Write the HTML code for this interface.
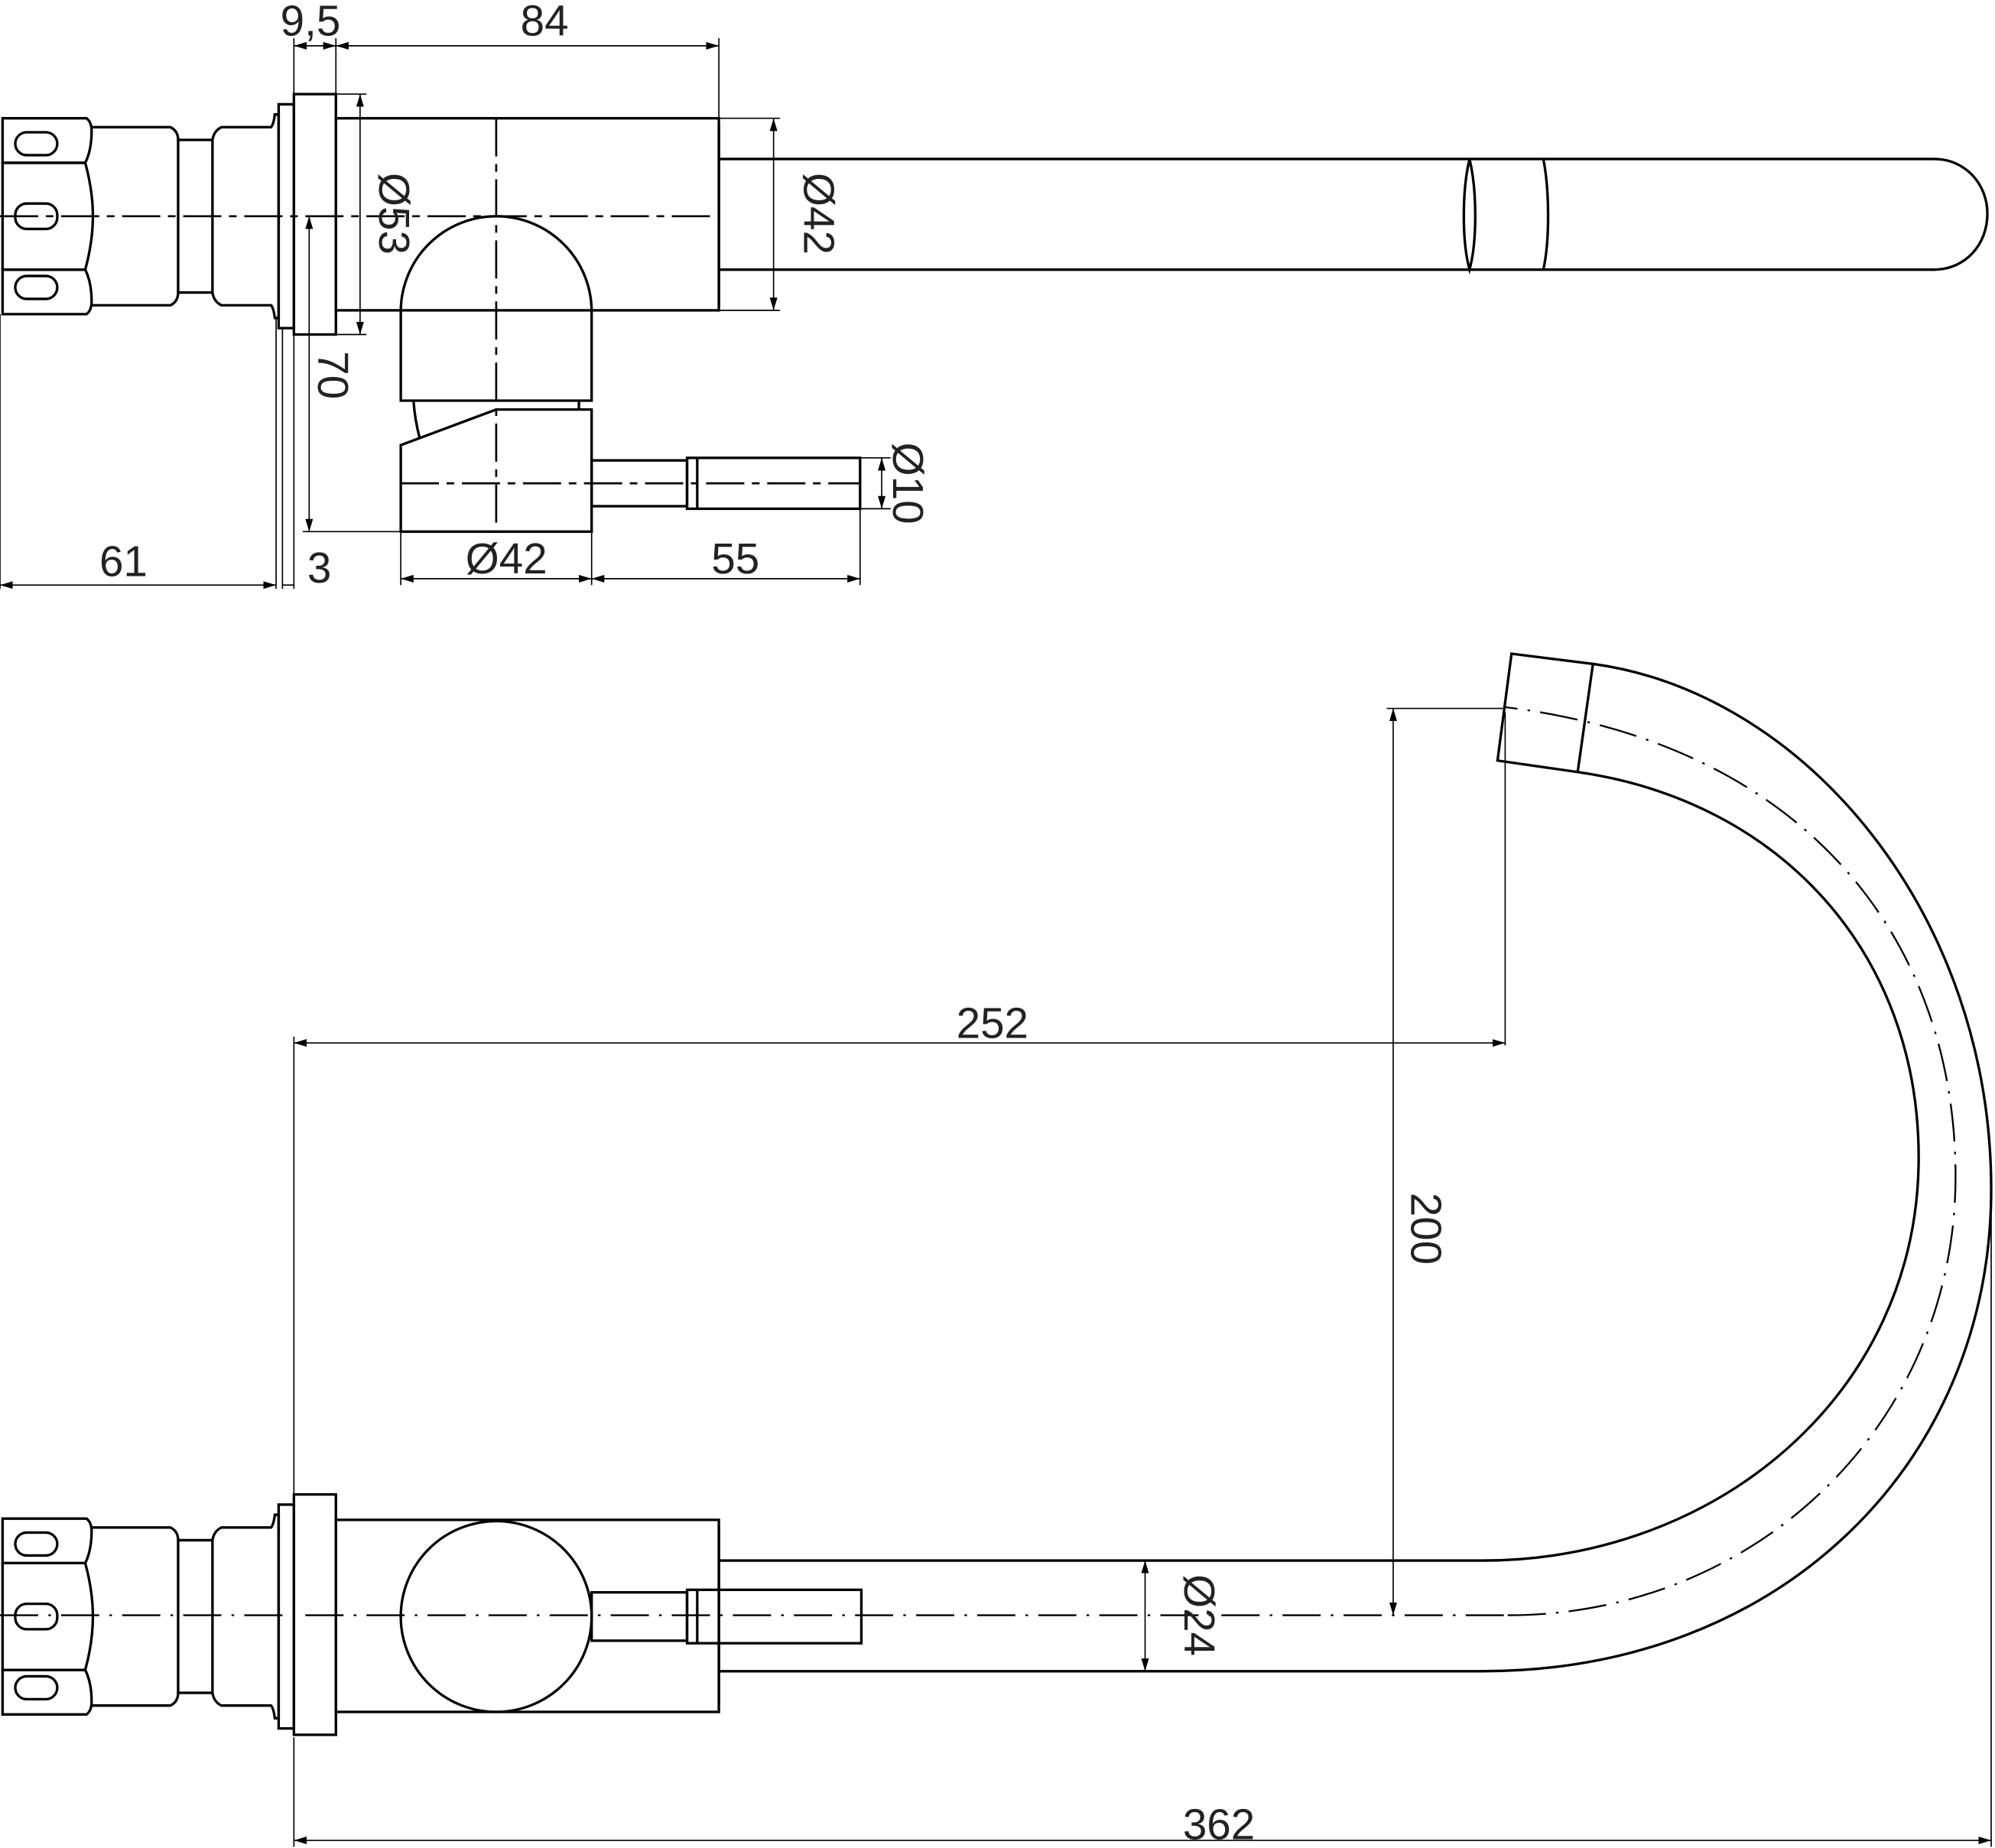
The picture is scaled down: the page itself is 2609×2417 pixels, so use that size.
<!DOCTYPE html>
<html><head><meta charset="utf-8"><style>
html,body{margin:0;padding:0;background:#fff}
svg{display:block}
text{font-family:"Liberation Sans","DejaVu Sans",sans-serif;font-size:34px;fill:#222}
</style></head><body>
<svg width="2609" height="2417" viewBox="0 0 1568 1453" preserveAspectRatio="none" xmlns="http://www.w3.org/2000/svg">
<defs>
<marker id="a" viewBox="0 0 10 6" refX="10" refY="3" markerWidth="10" markerHeight="6" orient="auto-start-reverse" markerUnits="userSpaceOnUse"><path d="M0,0 L10,3 L0,6 z" fill="#000"/></marker>
<g id="fit" fill="none" stroke="#000" stroke-width="2">
<path d="M2,93 H68 Q72,96 72,103 Q72,118 67,128 H2 Z"/>
<path d="M2,128 H67 Q73,150 73,170 Q73,190 67,212 H2 Z"/>
<path d="M2,212 H67 Q72,222 72,237 Q72,244 68,247 H2 Z"/>
<rect x="12" y="104" width="33" height="18" rx="9"/>
<rect x="12" y="160" width="33" height="20" rx="9"/>
<rect x="12" y="217" width="33" height="18" rx="9"/>
<path d="M72,100 H134 Q140,103 140,110 H167 Q168,103 174,100 H213 Q215,98 216,90 H219 V250 H216 Q215,242 213,240 H174 Q168,237 167,230 H140 Q140,237 134,240 H72"/>
<line x1="140" y1="110" x2="140" y2="230"/><line x1="167" y1="110" x2="167" y2="230"/>
<rect x="219" y="82" width="12" height="176"/>
<rect x="231" y="74" width="33" height="189"/>
</g>
</defs>
<g fill="none" stroke="#000" stroke-width="2">
<use href="#fit"/>
<rect x="264" y="93" width="301" height="151"/>
<line x1="565" y1="98" x2="565" y2="240"/>
<path d="M565,125 H1520 C1545,125 1562,145 1562,168 C1562,192 1545,212 1520,212 H565"/>
<path d="M1155,125 C1149,150 1149,190 1155,212 C1161,190 1161,150 1155,125 M1213,125 C1218,150 1218,190 1213,212"/>
<path d="M315,315 V245 A75,75 0 0 1 465,245 V315 Z"/>
<path d="M455,315 V322"/>
<path d="M325,315 Q326,330 330,345"/>
<path d="M315,418 V350 L390,322 H465 V418 Z"/>
<rect x="465" y="362" width="75" height="36"/>
<rect x="540" y="360" width="136" height="40"/>
<line x1="548" y1="360" x2="548" y2="400"/>
</g>
<g stroke="#000" stroke-width="1.6" fill="none" stroke-dasharray="30,6,6,6">
<line x1="0" y1="170" x2="565" y2="170"/>
<line x1="390" y1="93" x2="390" y2="418"/>
<line x1="315" y1="380" x2="676" y2="380"/>
</g>
<g stroke="#000" stroke-width="1" fill="none">
<line x1="231" y1="30" x2="231" y2="74"/><line x1="264" y1="30" x2="264" y2="93"/><line x1="565" y1="30" x2="565" y2="93"/>
<line x1="231" y1="36" x2="264" y2="36" marker-start="url(#a)" marker-end="url(#a)"/>
<line x1="264" y1="36" x2="565" y2="36" marker-start="url(#a)" marker-end="url(#a)"/>
<line x1="264" y1="74" x2="288" y2="74"/><line x1="264" y1="263" x2="288" y2="263"/>
<line x1="283" y1="74" x2="283" y2="263" marker-start="url(#a)" marker-end="url(#a)"/>
<line x1="565" y1="93" x2="613" y2="93"/><line x1="565" y1="244" x2="613" y2="244"/>
<line x1="608" y1="93" x2="608" y2="244" marker-start="url(#a)" marker-end="url(#a)"/>
<line x1="243" y1="170" x2="243" y2="418" marker-start="url(#a)" marker-end="url(#a)"/>
<line x1="238" y1="418" x2="315" y2="418"/>
<line x1="676" y1="360" x2="700" y2="360"/><line x1="676" y1="400" x2="700" y2="400"/>
<line x1="693" y1="360" x2="693" y2="400" marker-start="url(#a)" marker-end="url(#a)"/>
<line x1="0" y1="247" x2="0" y2="463"/><line x1="217" y1="250" x2="217" y2="463"/><line x1="222" y1="258" x2="222" y2="463"/><line x1="231" y1="263" x2="231" y2="463"/>
<line x1="0" y1="460" x2="217" y2="460" marker-start="url(#a)" marker-end="url(#a)"/>
<line x1="222" y1="460" x2="231" y2="460"/>
<line x1="315" y1="418" x2="315" y2="460"/><line x1="465" y1="418" x2="465" y2="460"/><line x1="676" y1="400" x2="676" y2="460"/>
<line x1="315" y1="455" x2="465" y2="455" marker-start="url(#a)" marker-end="url(#a)"/>
<line x1="465" y1="455" x2="676" y2="455" marker-start="url(#a)" marker-end="url(#a)"/>
</g>
<text x="244" y="28" text-anchor="middle">9,5</text>
<text x="428" y="28" text-anchor="middle">84</text>
<text transform="translate(298,168) rotate(90)" text-anchor="middle">Ø53</text>
<text transform="translate(632,168) rotate(90)" text-anchor="middle">Ø42</text>
<text transform="translate(250,295) rotate(90)" text-anchor="middle">70</text>
<text transform="translate(702,380) rotate(90)" text-anchor="middle">Ø10</text>
<text x="97" y="453" text-anchor="middle">61</text>
<text x="251" y="458" text-anchor="middle">3</text>
<text x="398" y="451" text-anchor="middle">Ø42</text>
<text x="578" y="451" text-anchor="middle">55</text>

<use href="#fit" transform="translate(0,1101)"/>
<g fill="none" stroke="#000" stroke-width="2">
<rect x="264" y="1195" width="301" height="151"/>
<line x1="565" y1="1200" x2="565" y2="1340"/>
<circle cx="390" cy="1271" r="75"/>
<rect x="465" y="1252" width="75" height="38"/>
<rect x="540" y="1250" width="137" height="42"/>
<line x1="548" y1="1250" x2="548" y2="1292"/>
<path d="M565,1314 H1165 C1400,1314 1565,1150 1565,935 C1565,720 1420,545 1252,522"/>
<path d="M565,1227 H1165 C1350,1227 1508,1095 1508,910 C1508,750 1400,630 1240,607"/>
<path d="M1188,514 L1252,522 L1240,607 L1177,598 Z"/>
</g>
<g stroke="#000" stroke-width="1.4" fill="none" stroke-dasharray="30,8,2,8">
<line x1="0" y1="1270" x2="1185" y2="1270"/>
<path d="M1185,1270 C1380,1270 1537,1120 1537,925 C1537,740 1420,585 1183,556"/>
</g>
<g stroke="#000" stroke-width="1" fill="none">
<line x1="900" y1="1227" x2="900" y2="1314" marker-start="url(#a)" marker-end="url(#a)"/>
<line x1="1090" y1="557" x2="1183" y2="557"/>
<line x1="1095" y1="557" x2="1095" y2="1270" marker-start="url(#a)" marker-end="url(#a)"/>
<line x1="1183" y1="560" x2="1183" y2="822"/>
<line x1="231" y1="820" x2="1183" y2="820" marker-start="url(#a)" marker-end="url(#a)"/>
<line x1="231" y1="815" x2="231" y2="1175"/><line x1="231" y1="1366" x2="231" y2="1452"/>
<line x1="1565" y1="940" x2="1565" y2="1452"/>
<line x1="231" y1="1447" x2="1565" y2="1447" marker-start="url(#a)" marker-end="url(#a)"/>
</g>
<text transform="translate(943,1270) rotate(90)" text-anchor="middle" dy="12">Ø24</text>
<text transform="translate(1121,966) rotate(90)" text-anchor="middle" dy="12">200</text>
<text x="780" y="816" text-anchor="middle">252</text>
<text x="958" y="1446" text-anchor="middle">362</text>
</svg>
</body></html>
